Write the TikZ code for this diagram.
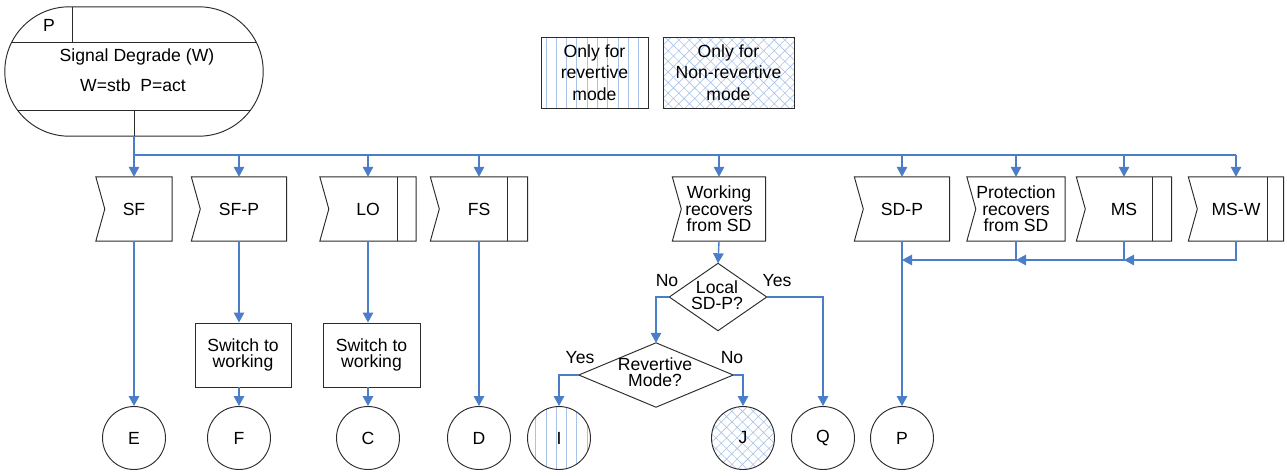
\documentclass[tikz,border=0pt]{standalone}
\usepackage{fontspec}
\setmainfont{Liberation Sans}
\usetikzlibrary{arrows.meta,patterns.meta}
\definecolor{conn}{HTML}{4A7EC9}
\definecolor{ink}{HTML}{2B2B2B}
\definecolor{pat}{HTML}{A9C2E8}
\tikzset{
  txt/.style={font=\fontsize{17.6}{16.5}\selectfont, align=center, inner sep=0pt},
  sigbox/.style={txt, minimum height=64pt},
  plainbox/.style={txt, draw=ink, line width=0.95pt, minimum height=64pt},
  endcirc/.style={txt, circle, draw=ink, line width=0.95pt, minimum size=63pt},
  link/.style={draw=conn, line width=1.4pt, -{Triangle[width=10.5pt,length=10pt]}},
  plainlink/.style={draw=conn, line width=1.4pt},
  outline/.style={draw=ink, line width=0.95pt},
  lbl/.style={font=\fontsize{17.6}{17}\selectfont, inner sep=0pt},
  vstripes/.style={pattern={Lines[angle=90,distance=10.3pt,line width=0.8pt]}, pattern color=pat},
  xhatch/.style={pattern={Hatch[angle=45,distance=7.5pt,line width=0.6pt]}, pattern color=pat}
}
\begin{document}
\begin{tikzpicture}[x=1pt,y=-1pt]
\useasboundingbox (0,0) rectangle (1287,475);

% state box
\node[txt, minimum width=258pt, minimum height=129pt] (state) at (134,71.5) {};
\draw[outline, rounded corners=64.5pt] (state.north west) rectangle (state.south east);
\begin{scope}
  \clip[rounded corners=64.5pt] (state.north west) rectangle (state.south east);
  \draw[outline] (0,42) -- (270,42);
  \draw[outline] (0,110) -- (270,110);
\end{scope}
\draw[outline] (72,7) -- (72,42);
\draw[outline] (134,110) -- (state.south);
\node[txt] (stP) at (49,25) {P};
\node[txt] (stA) at (137,57) {Signal Degrade (W)};
\node[txt] (stB) at (133,85) {W=stb\ \ P=act};

% legend
\node[txt, minimum width=107pt, minimum height=71pt, vstripes, draw=ink, line width=0.95pt,
      font=\fontsize{17.6}{21.5}\selectfont] (leg1) at (594.5,72.5) {Only for\\revertive\\mode};
\node[txt, minimum width=131pt, minimum height=71pt, xhatch, draw=ink, line width=0.95pt,
      font=\fontsize{17.6}{21.5}\selectfont] (leg2) at (728.5,72.5) {Only for\\Non-revertive\\mode};

% signal boxes
\node[sigbox, minimum width=76pt] (SF) at (134,209) {SF};
\node[sigbox, minimum width=95pt] (SFP) at (239,209) {SF-P};
\node[sigbox, minimum width=96pt] (LO) at (368,209) {LO};
\node[sigbox, minimum width=97pt] (FS) at (479,209) {FS};
\node[sigbox, minimum width=93pt] (WR) at (719,209) {Working\\recovers\\from SD};
\node[sigbox, minimum width=95pt] (SDP) at (902,209) {SD-P};
\node[sigbox, minimum width=98pt] (PR) at (1016,209) {Protection\\recovers\\from SD};
\node[sigbox, minimum width=95pt] (MS) at (1124,209) {MS};
\node[sigbox, minimum width=95pt] (MSW) at (1236,209) {MS-W};
\foreach \n in {SF,SFP,LO,FS,WR,SDP,PR,MS,MSW}{
  \draw[outline] (\n.north west) -- (\n.north east) -- (\n.south east) -- (\n.south west)
    -- ([xshift=9pt]\n.west) -- cycle;
}
\draw[outline] ([xshift=-19pt]LO.north east) -- ([xshift=-19pt]LO.south east);
\draw[outline] ([xshift=-20pt]FS.north east) -- ([xshift=-20pt]FS.south east);
\draw[outline] ([xshift=-19pt]MS.north east) -- ([xshift=-19pt]MS.south east);
\draw[outline] ([xshift=-16pt]MSW.north east) -- ([xshift=-16pt]MSW.south east);

% bus
\coordinate (bus) at (134,155);
\draw[plainlink] (bus) -- (MSW.north |- bus);
\draw[link] (state.south) -- (SF.north);
\foreach \n in {SFP,LO,FS,WR,SDP,PR,MS,MSW}{
  \draw[link] (\n.north |- bus) -- (\n.north);
}

% action boxes
\node[plainbox, minimum width=96pt] (SW1) at (243,355) {Switch to\\working};
\node[plainbox, minimum width=97pt] (SW2) at (371.5,355) {Switch to\\working};

% decisions
\node[txt, minimum width=97pt, minimum height=67pt] (LOC) at (718,297) {};
\draw[outline] (LOC.north) -- (LOC.east) -- (LOC.south) -- (LOC.west) -- cycle;
\node[txt] (LOCt) at (717,295) {Local\\SD-P?};
\node[txt, minimum width=154pt, minimum height=64pt] (REV) at (656,375) {};
\draw[outline] (REV.north) -- (REV.east) -- (REV.south) -- (REV.west) -- cycle;
\node[txt] (REVt) at (655,372) {Revertive\\Mode?};

% end circles
\node[endcirc] (E) at (134,438) {E};
\node[endcirc] (F) at (239,438) {F};
\node[endcirc] (C) at (368,438) {C};
\node[endcirc] (D) at (479,438) {D};
\node[endcirc, vstripes] (I) at (559,438) {I};
\node[endcirc, xhatch] (J) at (743,438) {J};
\node[endcirc] (Q) at (823,438) {Q};
\node[endcirc] (P) at (902,438) {P};

% connectors
\draw[link] (SF.south) -- (E.north);
\draw[link] (SFP.south) -- (SFP.south |- SW1.north);
\draw[link] (F.north |- SW1.south) -- (F.north);
\draw[link] (LO.south) -- (LO.south |- SW2.north);
\draw[link] (C.north |- SW2.south) -- (C.north);
\draw[link] (FS.south) -- (D.north);
\draw[link] (WR.south) -- (LOC.north);
\draw[link] (LOC.west) -| (REV.north);
\draw[link] (LOC.east) -| (Q.north);
\draw[link] (REV.west) -| (I.north);
\draw[link] (REV.east) -| (J.north);
\draw[link] (SDP.south) -- (P.north);
\coordinate (m1) at (1124,260);
\coordinate (m2) at (1016,260);
\coordinate (m3) at (902,260);
\draw[link] (MSW.south) |- (m1);
\draw[link] (MS.south) |- (m2);
\draw[link] (PR.south) |- (m3);

% labels
\node[lbl] (l1) at (667,281) {No};
\node[lbl] (l2) at (777,281) {Yes};
\node[lbl] (l3) at (580,358) {Yes};
\node[lbl] (l4) at (732,358) {No};
\end{tikzpicture}
\end{document}
